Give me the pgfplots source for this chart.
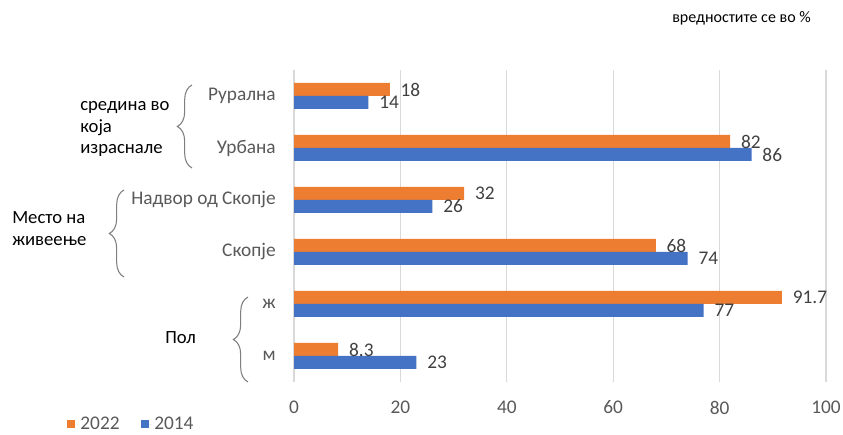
\documentclass[border=0pt]{standalone}
\usepackage{pgfplots}
\pgfplotsset{compat=1.18}
\usepackage{fontspec}
\setmainfont{Carlito}
\usetikzlibrary{decorations.pathreplacing}
\definecolor{or22}{HTML}{ED7D31}
\definecolor{bl14}{HTML}{4472C4}
\definecolor{txtgray}{HTML}{595959}
\definecolor{lblgray}{HTML}{404040}
\definecolor{gridgray}{HTML}{D9D9D9}
\definecolor{bracegray}{HTML}{7F7F7F}

% values in percent, categories bottom (0) to top (5)
\pgfplotstableread{
y  val
0  8.3
1  91.7
2  68
3  32
4  82
5  18
}\dataA
\pgfplotstableread{
y  val
0  23
1  77
2  74
3  26
4  86
5  14
}\dataB

\begin{document}
\begin{tikzpicture}[x=0.75pt,y=0.75pt]
\path[use as bounding box] (0,0) rectangle (843,435);
\begin{axis}[
  at={(220.5pt,39.75pt)}, anchor=south west,
  scale only axis, width=399pt, height=234pt,
  xbar, bar width=9.75pt,
  xmin=0, xmax=100, ymin=-0.5, ymax=5.5,
  xtick={0,20,...,100},
  ytick={0,...,5},
  yticklabels={м, ж, Скопје, Надвор од Скопје, Урбана, Рурална},
  xmajorgrids, major grid style={gridgray, line width=0.8pt},
  axis line style={draw=none},
  major tick length=0pt,
  /pgf/number format/assume math mode=true,
  xticklabel style={font=\fontsize{14.5}{17}\selectfont, text=txtgray, inner sep=0pt, anchor=north, yshift=-14pt},
  yticklabel style={font=\fontsize{14.5}{17}\selectfont, text=txtgray, inner sep=0pt, anchor=east, xshift=-13.5pt},
  point meta=x,
  nodes near coords={\pgfmathprintnumber{\pgfplotspointmeta}},
  nodes near coords style={font=\fontsize{14.5}{17}\selectfont, text=lblgray, anchor=west, inner sep=0pt, xshift=8pt},
  legend columns=-1,
  legend style={at={(-0.427,-0.136)}, anchor=west, draw=none, fill=none, inner sep=0pt,
    font=\fontsize{14.5}{17}\selectfont, text=txtgray,
    /tikz/every even column/.append style={column sep=14pt}},
  legend image code/.code={\fill[#1] (0pt,-3pt) rectangle (6pt,3pt); \path (0pt,0pt) -- (8pt,0pt);},
]
\addplot[fill=or22, draw=none, bar shift=4.875pt] table[x=val, y=y] {\dataA};
\addlegendentry{2022}
\addplot[fill=bl14, draw=none, bar shift=-4.875pt] table[x=val, y=y] {\dataB};
\addlegendentry{2014}
\end{axis}

% group braces and labels
\draw[bracegray, line width=0.8pt, decorate, decoration={brace, amplitude=11}] (192,267) -- (192,350);
\draw[bracegray, line width=0.8pt, decorate, decoration={brace, amplitude=11}] (124,158) -- (124,245);
\draw[bracegray, line width=0.8pt, decorate, decoration={brace, amplitude=11}] (248,53) -- (248,138);

\node[anchor=west, align=left, inner sep=0pt, font=\fontsize{14}{16}\selectfont] at (80,306) {средина во\\која\\израснале};
\node[anchor=west, align=left, inner sep=0pt, font=\fontsize{14}{16.5}\selectfont] at (12,206) {Место на\\живеење};
\node[anchor=west, inner sep=0pt, font=\fontsize{14}{16}\selectfont] at (165,97) {Пол};
\node[anchor=west, inner sep=0pt, font=\fontsize{12}{14}\selectfont] at (672,417) {вредностите се во \%};
\end{tikzpicture}
\end{document}
